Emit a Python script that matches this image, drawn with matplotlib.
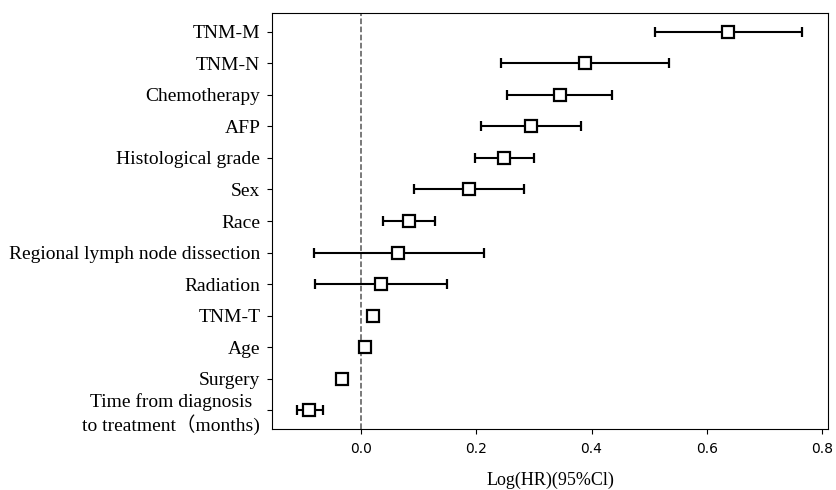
import numpy as np
import matplotlib.pyplot as plt

# variables, top to bottom
labels = ['TNM-M', 'TNM-N', 'Chemotherapy', 'AFP', 'Histological grade', 'Sex',
          'Race', 'Regional lymph node dissection', 'Radiation', 'TNM-T', 'Age',
          'Surgery', 'Time from diagnosis\nto treatment（months)']
log_hr = [0.637, 0.389, 0.345, 0.295, 0.248, 0.188, 0.084, 0.065, 0.035,
          0.021, 0.008, -0.032, -0.089]
ci_low = [0.510, 0.243, 0.254, 0.209, 0.198, 0.093, 0.039, -0.082, -0.079,
          0.019, 0.006, -0.034, -0.110]
ci_high = [0.765, 0.535, 0.435, 0.382, 0.300, 0.283, 0.129, 0.213, 0.149,
           0.023, 0.010, -0.030, -0.066]

serif = ['Liberation Serif', 'Noto Sans CJK SC']

log_hr = np.array(log_hr)
err = [log_hr - np.array(ci_low), np.array(ci_high) - log_hr]
y = np.arange(len(labels))[::-1]

fig = plt.figure(figsize=(8.36, 4.9), dpi=100)
ax = fig.add_axes([272 / 836, 1 - 429 / 490, (828 - 272) / 836, (429 - 13) / 490])

ax.axvline(0, color='#555555', linestyle='--', linewidth=1.1, zorder=1)
ax.errorbar(log_hr, y, xerr=err, fmt='s', color='black', ecolor='black',
            elinewidth=1.5, capsize=3.5, capthick=1.5, markersize=8.5,
            markerfacecolor='white', markeredgecolor='black', markeredgewidth=1.6,
            zorder=3)

ax.set_xlim(-0.154, 0.81)
ax.set_ylim(-0.6, len(labels) - 0.4)
ax.set_yticks(y)
ax.set_yticklabels(labels, family=serif, fontsize=14, multialignment='center')
ax.set_xticks([0.0, 0.2, 0.4, 0.6, 0.8])
ax.tick_params(axis='x', labelsize=10, pad=6)
ax.tick_params(axis='y', pad=5)
ax.set_xlabel('Log(HR)(95%Cl)', family=serif, fontsize=13, labelpad=11)

fig.savefig('out.png', dpi=100)
